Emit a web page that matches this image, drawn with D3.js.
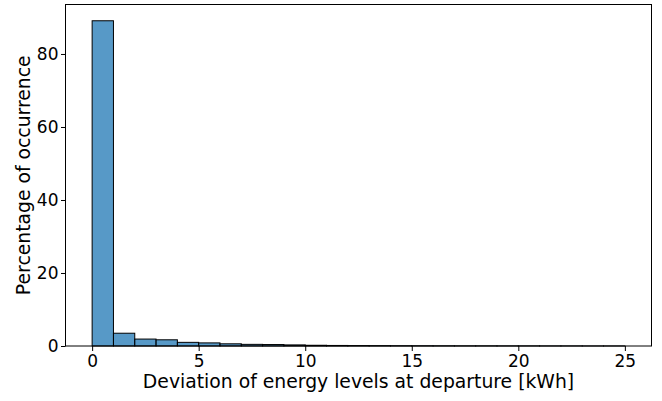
<!DOCTYPE html>
<html>
<head>
<meta charset="utf-8">
<script src="https://cdn.jsdelivr.net/npm/d3@7"></script>
<style>
  body { margin: 0; background: #fff; }
  svg { font-family: "DejaVu Sans", sans-serif; }
</style>
</head>
<body>
<div id="chart"></div>
<script>
// Histogram bins: lower edge of each 1 kWh bin
const binStarts = d3.range(0, 25);
// Percentage of occurrence per bin
const percentages = [89.1, 3.5, 1.9, 1.7, 1.0, 0.85, 0.6, 0.45, 0.4, 0.3,
                     0.2, 0.15, 0.12, 0.1, 0.08, 0.07, 0.06, 0.05, 0.05, 0.04,
                     0.04, 0.03, 0.03, 0.02, 0.02];
const xTicks = [0, 5, 10, 15, 20, 25];
const yTicks = [0, 20, 40, 60, 80];
const binWidth = 1;

const width = 662, height = 401;
const margin = {top: 4.5, right: 10.5, bottom: 55, left: 65.5};

const svg = d3.select("#chart")
    .append("svg")
    .attr("width", width)
    .attr("height", height);

// Define scales (matplotlib style 5% margins)
const xScale = d3.scaleLinear()
    .domain([-1.25, 26.25])
    .range([margin.left, width - margin.right]);

const yScale = d3.scaleLinear()
    .domain([0, d3.max(percentages) * 1.05])
    .range([height - margin.bottom, margin.top]);

const bins = binStarts.map((s, i) => ({x0: s, x1: s + binWidth, value: percentages[i]}));

// Bars
svg.selectAll(".bar")
    .data(bins)
    .join("rect")
    .attr("class", "bar")
    .attr("x", d => xScale(d.x0))
    .attr("y", d => yScale(d.value))
    .attr("width", d => xScale(d.x1) - xScale(d.x0))
    .attr("height", d => yScale(0) - yScale(d.value))
    .attr("fill", "rgba(31,119,180,0.75)")
    .attr("stroke", "#000")
    .attr("stroke-width", 1);

// Axes
const xAxis = d3.axisBottom(xScale).tickValues(xTicks).tickSize(5).tickPadding(4);
const yAxis = d3.axisLeft(yScale).tickValues(yTicks).tickSize(4.5).tickPadding(2.5);

const gx = svg.append("g")
    .attr("transform", `translate(0, ${height - margin.bottom})`)
    .call(xAxis);

const gy = svg.append("g")
    .attr("transform", `translate(${margin.left}, 0)`)
    .call(yAxis);

[gx, gy].forEach(g => {
    g.select(".domain").remove();
    g.selectAll("text").attr("font-size", 17).attr("font-family", "DejaVu Sans").attr("fill", "#000");
    g.selectAll("line").attr("stroke", "#000");
});

// Frame around plot area
svg.append("rect")
    .attr("x", margin.left)
    .attr("y", margin.top)
    .attr("width", width - margin.left - margin.right)
    .attr("height", height - margin.top - margin.bottom)
    .attr("fill", "none")
    .attr("stroke", "#000")
    .attr("stroke-width", 1);

// Axis labels
svg.append("text")
    .attr("x", (margin.left + width - margin.right) / 2)
    .attr("y", height - 13)
    .attr("text-anchor", "middle")
    .attr("font-size", 18.8)
    .text("Deviation of energy levels at departure [kWh]");

svg.append("text")
    .attr("transform", `translate(29.5, ${(margin.top + height - margin.bottom) / 2}) rotate(-90)`)
    .attr("text-anchor", "middle")
    .attr("font-size", 18.8)
    .text("Percentage of occurrence");
</script>
</body>
</html>
